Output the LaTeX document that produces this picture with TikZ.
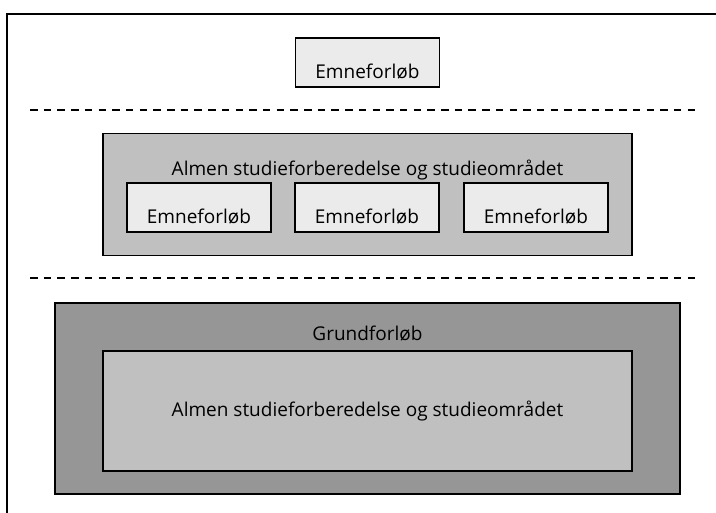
\documentclass[tikz,border=0pt]{standalone}
\usepackage{fontspec}
\setmainfont{Open Sans}
\usepackage{xcolor}
\definecolor{boxlight}{HTML}{EBEBEB}
\definecolor{boxmid}{HTML}{C0C0C0}
\definecolor{boxdark}{HTML}{969696}
\tikzset{
  frameline/.style={line width=1.5pt, line cap=rect},
  sepline/.style={line width=1.5pt, dash pattern=on 7.5pt off 6.2pt},
  caption/.style={font=\fontsize{19}{23}\selectfont, inner sep=0pt},
  topicbox/.style={draw, line width=1.5pt, fill=boxlight, caption,
    minimum width=144pt, minimum height=49pt, text height=31.5pt, text depth=0pt},
  studybox/.style={draw, line width=1.5pt, fill=boxmid, caption,
    minimum width=529pt},
  basebox/.style={draw, line width=1.5pt, fill=boxdark,
    minimum width=625pt, minimum height=191pt},
}

\begin{document}
\begin{tikzpicture}[x=1pt, y=-1pt]
  \useasboundingbox (0,0) rectangle (716,513);
  % open frame
  \draw[frameline] (7,513) -- (7,14) -- (716,14);
  % top level
  \node[topicbox] (topic) at (367.5,62.5) {Emneforløb};
  \draw[sepline] (30,110) -- (697,110);
  % middle level
  \node[studybox, minimum height=122pt] (study) at (367.5,194.5) {};
  \node[caption, anchor=base] (studytitle) at (367.5,176) {Almen studieforberedelse og studieområdet};
  \node[topicbox] (topicA) at (199,207.5) {Emneforløb};
  \node[topicbox] (topicB) at (367,207.5) {Emneforløb};
  \node[topicbox] (topicC) at (536,207.5) {Emneforløb};
  \draw[sepline] (30,278) -- (697,278);
  % bottom level
  \node[basebox] (base) at (367.5,398.5) {};
  \node[caption, anchor=base] (basetitle) at (367.5,341) {Grundforløb};
  \node[studybox, minimum height=120pt] (basestudy) at (367.5,411) {Almen studieforberedelse og studieområdet};
\end{tikzpicture}
\end{document}
